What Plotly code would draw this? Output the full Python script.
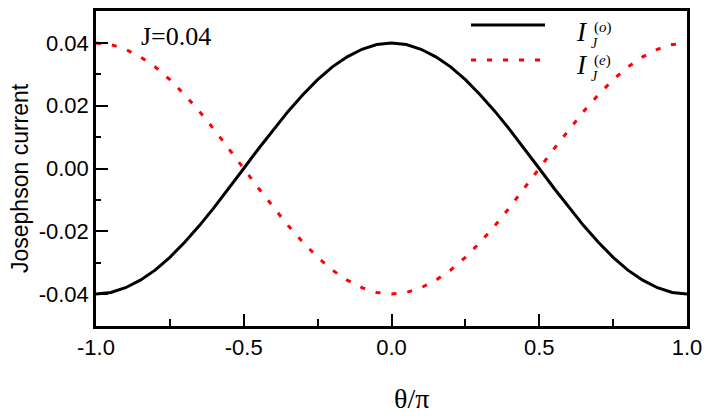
import plotly.graph_objects as go

# theta/pi sample points and currents
theta = [-1.0, -0.95, -0.9, -0.85, -0.8, -0.75, -0.7, -0.65, -0.6, -0.55, -0.5,
         -0.45, -0.4, -0.35, -0.3, -0.25, -0.2, -0.15, -0.1, -0.05, 0.0,
         0.05, 0.1, 0.15, 0.2, 0.25, 0.3, 0.35, 0.4, 0.45, 0.5,
         0.55, 0.6, 0.65, 0.7, 0.75, 0.8, 0.85, 0.9, 0.95, 1.0]
i_odd = [-0.0400, -0.0395, -0.0380, -0.0356, -0.0324, -0.0283, -0.0235, -0.0182, -0.0124, -0.0063, 0.0000,
         0.0063, 0.0124, 0.0182, 0.0235, 0.0283, 0.0324, 0.0356, 0.0380, 0.0395, 0.0400,
         0.0395, 0.0380, 0.0356, 0.0324, 0.0283, 0.0235, 0.0182, 0.0124, 0.0063, 0.0000,
         -0.0063, -0.0124, -0.0182, -0.0235, -0.0283, -0.0324, -0.0356, -0.0380, -0.0395, -0.0400]
i_even = [0.0400, 0.0395, 0.0380, 0.0356, 0.0324, 0.0283, 0.0235, 0.0182, 0.0124, 0.0063, 0.0000,
          -0.0063, -0.0124, -0.0182, -0.0235, -0.0283, -0.0324, -0.0356, -0.0380, -0.0395, -0.0400,
          -0.0395, -0.0380, -0.0356, -0.0324, -0.0283, -0.0235, -0.0182, -0.0124, -0.0063, 0.0000,
          0.0063, 0.0124, 0.0182, 0.0235, 0.0283, 0.0324, 0.0356, 0.0380, 0.0395, 0.0400]

x_ticks = [-1.0, -0.5, 0.0, 0.5, 1.0]
x_labels = ["-1.0", "-0.5", "0.0", "0.5", "1.0"]
y_ticks = [-0.04, -0.02, 0.0, 0.02, 0.04]
y_labels = ["-0.04", "-0.02", "0.00", "0.02", "0.04"]

# page body has an 8px margin, so the figure is shifted by that much
OFF = 8
W, H = 717 - OFF, 416 - OFF
L, R, T, B = 96 - OFF, 30, 11 - OFF, 90


def px(x):
    # page pixel -> paper x
    return (x - 96) / 591


def py(y):
    # page pixel -> paper y
    return (326 - y) / 315


fig = go.Figure()
fig.add_trace(go.Scatter(x=theta, y=i_odd, mode="lines",
                         line=dict(color="black", width=3), showlegend=False))
fig.add_trace(go.Scatter(x=theta, y=i_even, mode="lines",
                         line=dict(color="#ff0000", width=3, dash="5px,11px"), showlegend=False))

sans = "Liberation Sans, Arial"
serif = "Liberation Serif, Times New Roman, serif"
tick_font = dict(family=sans, size=22, color="black")
fig.update_xaxes(range=[-1, 1], tickvals=x_ticks, ticktext=x_labels, ticks="inside",
                 ticklen=12, tickwidth=2, tickcolor="black", showline=True, linewidth=2.5,
                 linecolor="black", mirror=True, showgrid=False, zeroline=False,
                 tickfont=tick_font, automargin=False,
                 minor=dict(tickvals=[-0.75, -0.25, 0.25, 0.75], ticks="inside", ticklen=7,
                            tickwidth=2, tickcolor="black"))
fig.update_yaxes(range=[-0.0502, 0.0502], tickvals=y_ticks, ticktext=y_labels, ticks="inside",
                 ticklen=12, tickwidth=2, tickcolor="black", showline=True, linewidth=2.5,
                 linecolor="black", mirror=True, showgrid=False, zeroline=False,
                 tickfont=tick_font, automargin=False,
                 minor=dict(tickvals=[-0.03, -0.01, 0.01, 0.03], ticks="inside", ticklen=5,
                            tickwidth=2, tickcolor="black"))

annotations = [
    dict(text="Josephson current", x=px(20), y=py(178), xanchor="center", yanchor="middle",
         textangle=-90, font=dict(family=sans, size=23, color="black")),
    dict(text="J=0.04", x=px(139), y=py(36), xanchor="left", yanchor="middle",
         font=dict(family=serif, size=26, color="black")),
    dict(text="θ/π", x=px(411), y=py(398), xanchor="center", yanchor="middle",
         font=dict(family=serif, size=28, color="black")),
    # legend labels
    dict(text="<i>I</i>", x=px(574), y=py(32), xanchor="left", yanchor="middle",
         font=dict(family=serif, size=27, color="black")),
    dict(text="(<i>o</i>)", x=px(592), y=py(27), xanchor="left", yanchor="middle",
         font=dict(family=serif, size=15, color="black")),
    dict(text="<i>J</i>", x=px(589), y=py(44), xanchor="left", yanchor="middle",
         font=dict(family=serif, size=14, color="black")),
    dict(text="<i>I</i>", x=px(574), y=py(65), xanchor="left", yanchor="middle",
         font=dict(family=serif, size=27, color="black")),
    dict(text="(<i>e</i>)", x=px(592), y=py(60), xanchor="left", yanchor="middle",
         font=dict(family=serif, size=15, color="black")),
    dict(text="<i>J</i>", x=px(589), y=py(76), xanchor="left", yanchor="middle",
         font=dict(family=serif, size=14, color="black")),
]
for a in annotations:
    a.update(xref="paper", yref="paper", showarrow=False)

shapes = [
    dict(type="line", xref="paper", yref="paper", x0=px(471), x1=px(545), y0=py(25), y1=py(25),
         line=dict(color="black", width=3)),
    dict(type="line", xref="paper", yref="paper", x0=px(471), x1=px(545), y0=py(60), y1=py(60),
         line=dict(color="#ff0000", width=3, dash="5px,11px")),
]

fig.update_layout(width=W, height=H, margin=dict(l=L, r=R, t=T, b=B),
                  paper_bgcolor="white", plot_bgcolor="white",
                  annotations=annotations, shapes=shapes, showlegend=False)

fig.write_html("out.html")
